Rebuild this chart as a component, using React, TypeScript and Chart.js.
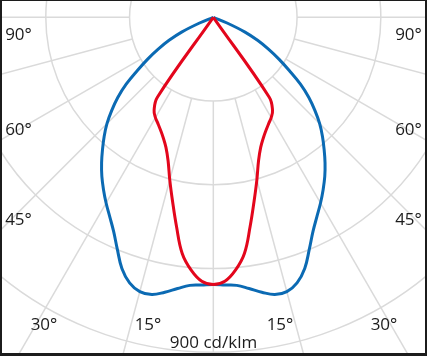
import React, { useEffect, useRef } from "react";
import { Chart, registerables } from "chart.js";

Chart.register(...registerables);

// Gamma angles (degrees from nadir) at which the intensities are read
const ANGLES = [0, 2.5, 5, 7.5, 10, 12.5, 15, 17.5, 20, 22.5, 25, 27.5, 30, 32.5, 35, 37.5, 40, 42.5, 45, 47.5, 50, 52.5, 55, 57.5, 60, 62.5, 65, 67.5, 70];
// C0-C180 plane (blue), cd/klm
const BLUE_VALUES = [718, 720, 723, 735, 750, 763, 763, 748, 718, 674, 634, 603, 576, 549, 522, 493, 463, 434, 404, 370, 335, 295, 249, 209, 171, 134, 94, 40, 0];
// C90-C270 plane (red), cd/klm
const RED_VALUES = [718, 710, 682, 640, 570, 506, 452, 404, 372, 351, 335, 322, 311, 296, 262, 0];

const RING_VALUES = [225, 450, 675, 900];
const SPOKE_ANGLES = [0, 15, 30, 45, 60, 75, 90];
const UNIT_LABEL = "900 cd/klm";
const BLUE = "#0b6ab3";
const RED = "#e3061c";

function curvePoints(values: number[]) {
  let end = values.indexOf(0);
  if (end < 0) end = values.length - 1;
  const pts: { x: number; y: number }[] = [];
  for (let i = end; i >= 0; i--) {
    const a = (ANGLES[i] * Math.PI) / 180;
    pts.push({ x: -values[i] * Math.sin(a), y: -values[i] * Math.cos(a) });
  }
  for (let i = 1; i <= end; i++) {
    const a = (ANGLES[i] * Math.PI) / 180;
    pts.push({ x: values[i] * Math.sin(a), y: -values[i] * Math.cos(a) });
  }
  return pts;
}

const gridPlugin = {
  id: "polarGrid",
  beforeDatasetsDraw(chart: any) {
    const { ctx, chartArea, scales } = chart;
    const x = scales.x;
    const y = scales.y;
    const cx = x.getPixelForValue(0);
    const cy = y.getPixelForValue(0);
    const ppu = x.getPixelForValue(1) - cx;
    ctx.save();
    ctx.beginPath();
    ctx.rect(chartArea.left, chartArea.top, chartArea.right - chartArea.left, chartArea.bottom - chartArea.top);
    ctx.clip();
    ctx.strokeStyle = "#dadada";
    ctx.lineWidth = 1.5;
    for (const v of RING_VALUES) {
      ctx.beginPath();
      ctx.arc(cx, cy, v * ppu, 0, Math.PI * 2);
      ctx.stroke();
    }
    const r0 = RING_VALUES[0] * ppu;
    const r1 = RING_VALUES[RING_VALUES.length - 1] * ppu * 2;
    for (const deg of SPOKE_ANGLES) {
      const a = (deg * Math.PI) / 180;
      const sides = deg === 0 ? [1] : [-1, 1];
      for (const s of sides) {
        ctx.beginPath();
        ctx.moveTo(cx + s * Math.sin(a) * r0, cy + Math.cos(a) * r0);
        ctx.lineTo(cx + s * Math.sin(a) * r1, cy + Math.cos(a) * r1);
        ctx.stroke();
      }
    }
    ctx.restore();
  },
  afterDraw(chart: any) {
    const { ctx, chartArea, width, height } = chart;
    const L = chartArea.left;
    const T = chartArea.top;
    const R = chartArea.right;
    ctx.save();
    ctx.fillStyle = "#1c1c1c";
    ctx.font = '17px "Open Sans"';
    ctx.textAlign = "center";
    ctx.textBaseline = "middle";
    const labels: [string, number, number][] = [
      ["90°", L + 18.5, T + 35],
      ["60°", L + 18.5, T + 130],
      ["45°", L + 18.5, T + 220],
      ["30°", L + 44, T + 325],
      ["15°", L + 148, T + 325],
      ["15°", R - 147, T + 325],
      ["30°", R - 43, T + 325],
      ["45°", R - 18.5, T + 220],
      ["60°", R - 18.5, T + 130],
      ["90°", R - 18.5, T + 35],
    ];
    for (const [t, lx, ly] of labels) ctx.fillText(t, lx, ly);
    ctx.fillText(UNIT_LABEL, (L + R) / 2, T + 343);
    // frame
    ctx.fillRect(0, 0, width, 1);
    ctx.fillRect(0, 0, 2, height);
    ctx.fillRect(width - 2, 0, 2, height);
    ctx.fillRect(0, height - 3, width, 3);
    ctx.restore();
  },
};

export default function App() {
  const ref = useRef<HTMLCanvasElement | null>(null);
  useEffect(() => {
    if (!ref.current) return;
    const chart = new Chart(ref.current, {
      type: "scatter",
      data: {
        datasets: [
          {
            label: "C90-C270",
            data: curvePoints(RED_VALUES),
            showLine: true,
            borderColor: RED,
            backgroundColor: RED,
            borderWidth: 3,
            pointRadius: 0,
            tension: 0.4,
          },
          {
            label: "C0-C180",
            data: curvePoints(BLUE_VALUES),
            showLine: true,
            borderColor: BLUE,
            backgroundColor: BLUE,
            borderWidth: 3,
            pointRadius: 0,
            tension: 0.4,
          },
        ],
      },
      options: {
        responsive: false,
        animation: false,
        devicePixelRatio: 1,
        events: [],
        layout: { padding: 0 },
        plugins: { legend: { display: false }, tooltip: { enabled: false } },
        scales: {
          x: { type: "linear", display: false, min: -573, max: 574 },
          y: { type: "linear", display: false, min: -910, max: 46.5 },
        },
      },
      plugins: [gridPlugin],
    });
    return () => chart.destroy();
  }, []);
  return (
    <div style={{ position: "fixed", left: 0, top: 0, width: 427, height: 356, background: "#fff" }}>
      <canvas ref={ref} width={427} height={356} style={{ display: "block" }} />
    </div>
  );
}
